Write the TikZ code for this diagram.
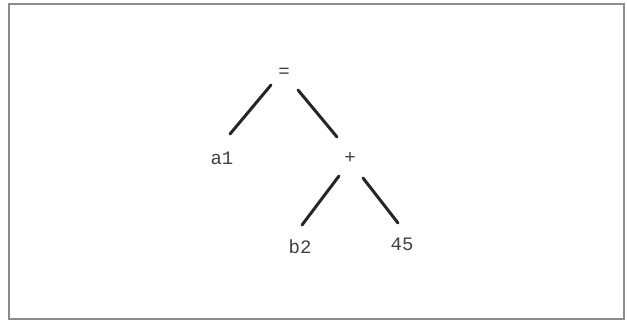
\documentclass[tikz,border=0pt]{standalone}
\usepackage{fontspec}
\setmonofont{Liberation Mono}
\usetikzlibrary{calc}
\begin{document}
\begin{tikzpicture}[x=1pt,y=-1pt,
  lbl/.style={font=\fontsize{19}{22}\selectfont\ttfamily, text=black!75, inner sep=0pt},
  edge/.style={line width=3pt, draw=black!85, line cap=round}]
\useasboundingbox (0,0) rectangle (627,322);
\draw[draw=black!45, line width=1.3pt] (9,4) rectangle (624,319);
\node[lbl] (eq) at (284,73) {=};
\node[lbl] (a1) at (222,158) {a1};
\node[lbl] (plus) at (350,158) {+};
\node[lbl] (b2) at (300,247) {b2};
\node[lbl] (n45) at (402,244) {45};
\draw[edge] ($(eq)+(-13,12)$) -- ($(a1)+(8,-24)$);
\draw[edge] ($(eq)+(14,17)$) -- ($(plus)+(-13,-21)$);
\draw[edge] ($(plus)+(-11,18)$) -- ($(b2)+(2,-22)$);
\draw[edge] ($(plus)+(13,20)$) -- ($(n45)+(-4,-21)$);
\end{tikzpicture}
\end{document}
